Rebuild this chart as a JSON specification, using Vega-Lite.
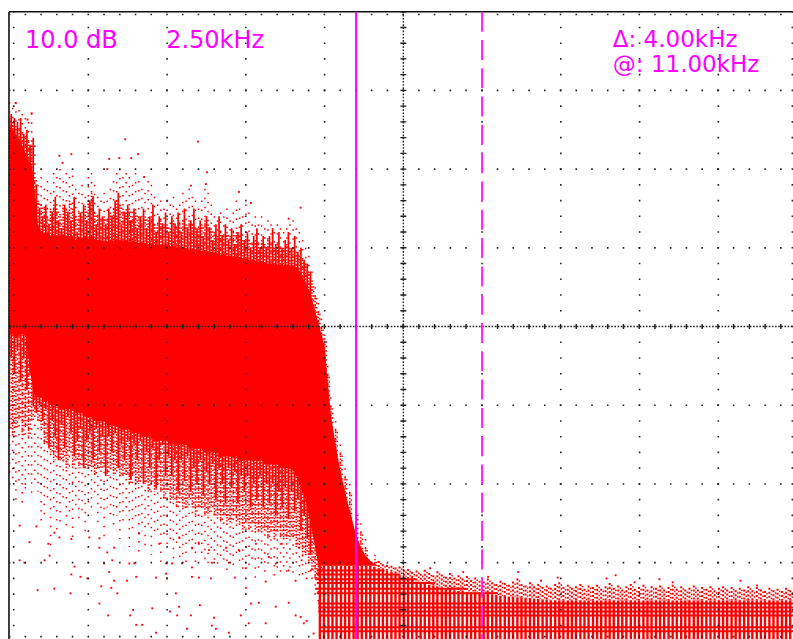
{"$schema":"https://vega.github.io/schema/vega-lite/v6.json","width":793,"height":639,"padding":0,"autosize":{"type":"fit","contains":"padding"},"background":"white","config":{"view":{"stroke":null}},
"datasets":{
"spectrum":[
{"f":0,"ot":-11.5,"mt":-13.5,"st":-14.5,"sb":-41,"mb":-53,"ob":-59},{"f":0.1,"ot":-12.2,"mt":-14,"st":-15,"sb":-41,"mb":-54,"ob":-60},{"f":0.2,"ot":-11.5,"mt":-14.5,"st":-15.5,"sb":-41.5,"mb":-53,"ob":-62},{"f":0.3,"ot":-12.5,"mt":-15,"st":-16.2,"sb":-41,"mb":-52,"ob":-60},{"f":0.4,"ot":-13,"mt":-15.5,"st":-17,"sb":-41,"mb":-54,"ob":-63},{"f":0.5,"ot":-13.5,"mt":-16,"st":-18,"sb":-41,"mb":-53,"ob":-61},{"f":0.6,"ot":-14,"mt":-16.5,"st":-19,"sb":-44,"mb":-54,"ob":-59},{"f":0.7,"ot":-12.9,"mt":-17,"st":-19.5,"sb":-47,"mb":-52,"ob":-62},{"f":0.8,"ot":-17,"mt":-21,"st":-23,"sb":-49,"mb":-51,"ob":-60},{"f":0.9,"ot":-22,"mt":-24,"st":-27,"sb":-49,"mb":-52,"ob":-61},
{"f":1,"ot":-21,"mt":-24.5,"st":-28,"sb":-49,"mb":-53,"ob":-65},{"f":1.1,"ot":-22.5,"mt":-25,"st":-28.2,"sb":-49.5,"mb":-55,"ob":-64},{"f":1.2,"ot":-21.5,"mt":-26,"st":-28,"sb":-49.5,"mb":-55,"ob":-62},{"f":1.3,"ot":-23,"mt":-25,"st":-28.5,"sb":-50,"mb":-56,"ob":-68},{"f":1.4,"ot":-20.5,"mt":-24.5,"st":-28.3,"sb":-50,"mb":-57,"ob":-63},{"f":1.5,"ot":-21,"mt":-25,"st":-28.4,"sb":-50,"mb":-56,"ob":-66},{"f":1.6,"ot":-20,"mt":-26,"st":-28.5,"sb":-50.5,"mb":-57,"ob":-65},{"f":1.7,"ot":-21.5,"mt":-24.5,"st":-28.2,"sb":-50.5,"mb":-57,"ob":-62},{"f":1.8,"ot":-20.5,"mt":-25,"st":-28.7,"sb":-50.5,"mb":-58,"ob":-66},{"f":1.9,"ot":-21,"mt":-24,"st":-28.5,"sb":-50.5,"mb":-56,"ob":-64},
{"f":2,"ot":-20.8,"mt":-25,"st":-28.6,"sb":-50.5,"mb":-58,"ob":-67},{"f":2.1,"ot":-22.5,"mt":-26,"st":-29,"sb":-51,"mb":-57,"ob":-63},{"f":2.2,"ot":-23,"mt":-25.5,"st":-28.7,"sb":-51,"mb":-58,"ob":-65},{"f":2.3,"ot":-22,"mt":-26,"st":-28.8,"sb":-51,"mb":-57,"ob":-64},{"f":2.4,"ot":-23.5,"mt":-25,"st":-28.5,"sb":-51.5,"mb":-58,"ob":-66},{"f":2.5,"ot":-21,"mt":-24,"st":-28.8,"sb":-51.5,"mb":-58,"ob":-63},{"f":2.6,"ot":-20.5,"mt":-23,"st":-28.6,"sb":-51.5,"mb":-58,"ob":-64},{"f":2.7,"ot":-22,"mt":-25.5,"st":-29,"sb":-52,"mb":-59,"ob":-62},{"f":2.8,"ot":-23.5,"mt":-26,"st":-29,"sb":-52,"mb":-58,"ob":-65},{"f":2.9,"ot":-24,"mt":-26.5,"st":-29,"sb":-52,"mb":-58,"ob":-64},
{"f":3,"ot":-23,"mt":-26,"st":-29.2,"sb":-52,"mb":-58,"ob":-67},{"f":3.1,"ot":-24,"mt":-26.5,"st":-29.2,"sb":-52.5,"mb":-59,"ob":-63},{"f":3.2,"ot":-22.5,"mt":-25.5,"st":-29,"sb":-52.5,"mb":-58,"ob":-64},{"f":3.3,"ot":-21.5,"mt":-25,"st":-29.1,"sb":-52.5,"mb":-59,"ob":-66},{"f":3.4,"ot":-20.5,"mt":-24,"st":-28.8,"sb":-52.5,"mb":-58,"ob":-64},{"f":3.5,"ot":-20,"mt":-24.5,"st":-29,"sb":-53,"mb":-59,"ob":-67},{"f":3.6,"ot":-21,"mt":-25,"st":-29.2,"sb":-53,"mb":-59,"ob":-65},{"f":3.7,"ot":-20.5,"mt":-25.5,"st":-29,"sb":-53,"mb":-59,"ob":-64},{"f":3.8,"ot":-21,"mt":-25,"st":-29.3,"sb":-53,"mb":-60,"ob":-68},{"f":3.9,"ot":-22,"mt":-26,"st":-29.2,"sb":-53.5,"mb":-59,"ob":-66},
{"f":4,"ot":-20.5,"mt":-25.5,"st":-29.2,"sb":-53.5,"mb":-60,"ob":-65},{"f":4.1,"ot":-21.5,"mt":-26,"st":-29.4,"sb":-53.5,"mb":-60,"ob":-69},{"f":4.2,"ot":-22.5,"mt":-26.5,"st":-29.3,"sb":-54,"mb":-59,"ob":-66},{"f":4.3,"ot":-23,"mt":-26,"st":-29.4,"sb":-54,"mb":-60,"ob":-68},{"f":4.4,"ot":-21.5,"mt":-26.5,"st":-29.5,"sb":-54,"mb":-61,"ob":-66},{"f":4.5,"ot":-22,"mt":-26,"st":-29.4,"sb":-54,"mb":-60,"ob":-69},{"f":4.6,"ot":-23.5,"mt":-27,"st":-29.6,"sb":-54.5,"mb":-61,"ob":-67},{"f":4.7,"ot":-24.5,"mt":-27,"st":-29.5,"sb":-54.5,"mb":-60,"ob":-66},{"f":4.8,"ot":-24,"mt":-26.5,"st":-29.6,"sb":-54.5,"mb":-61,"ob":-70},{"f":4.9,"ot":-25,"mt":-27,"st":-29.6,"sb":-54.5,"mb":-62,"ob":-67},
{"f":5,"ot":-24,"mt":-27,"st":-29.5,"sb":-54.5,"mb":-61,"ob":-68},{"f":5.1,"ot":-24.5,"mt":-27.5,"st":-29.8,"sb":-55,"mb":-62,"ob":-67},{"f":5.2,"ot":-23.5,"mt":-26.5,"st":-29.7,"sb":-55,"mb":-62,"ob":-70},{"f":5.3,"ot":-25,"mt":-27.5,"st":-30,"sb":-55,"mb":-63,"ob":-68},{"f":5.4,"ot":-24.5,"mt":-27,"st":-29.9,"sb":-55,"mb":-62,"ob":-70},{"f":5.5,"ot":-23,"mt":-26.5,"st":-30,"sb":-55,"mb":-63,"ob":-69},{"f":5.6,"ot":-24,"mt":-27,"st":-30,"sb":-55,"mb":-63,"ob":-70},{"f":5.7,"ot":-22.5,"mt":-26.5,"st":-30.2,"sb":-55.5,"mb":-62,"ob":-68},{"f":5.8,"ot":-23.5,"mt":-27,"st":-30.1,"sb":-55.5,"mb":-63,"ob":-69},{"f":5.9,"ot":-24,"mt":-27.5,"st":-30.3,"sb":-55.5,"mb":-64,"ob":-70},
{"f":6,"ot":-25,"mt":-27.5,"st":-30.2,"sb":-55.5,"mb":-63,"ob":-68},{"f":6.1,"ot":-24,"mt":-27,"st":-30.4,"sb":-55.5,"mb":-63,"ob":-69},{"f":6.2,"ot":-22.5,"mt":-26.5,"st":-30.3,"sb":-56,"mb":-64,"ob":-70},{"f":6.3,"ot":-23,"mt":-27,"st":-30.5,"sb":-56,"mb":-64,"ob":-71},{"f":6.4,"ot":-24.5,"mt":-27.5,"st":-30.5,"sb":-56,"mb":-63,"ob":-69},{"f":6.5,"ot":-26,"mt":-28,"st":-30.7,"sb":-56,"mb":-64,"ob":-70},{"f":6.6,"ot":-26.5,"mt":-28.5,"st":-30.7,"sb":-56,"mb":-64,"ob":-71},{"f":6.7,"ot":-25.5,"mt":-28,"st":-30.9,"sb":-56.5,"mb":-65,"ob":-70},{"f":6.8,"ot":-26,"mt":-28.5,"st":-30.8,"sb":-56.5,"mb":-64,"ob":-70},{"f":6.9,"ot":-25,"mt":-28,"st":-31,"sb":-56.5,"mb":-65,"ob":-71},
{"f":7,"ot":-26.5,"mt":-28.5,"st":-31,"sb":-56.5,"mb":-65,"ob":-70},{"f":7.1,"ot":-25.5,"mt":-28,"st":-31.2,"sb":-56.5,"mb":-64,"ob":-71},{"f":7.2,"ot":-24,"mt":-28,"st":-31.1,"sb":-56.5,"mb":-65,"ob":-69},{"f":7.3,"ot":-25,"mt":-28.5,"st":-31.3,"sb":-57,"mb":-65,"ob":-70},{"f":7.4,"ot":-26,"mt":-29,"st":-31.3,"sb":-57,"mb":-66,"ob":-71},{"f":7.5,"ot":-24.5,"mt":-28.5,"st":-31.4,"sb":-57,"mb":-65,"ob":-70},{"f":7.6,"ot":-25.5,"mt":-29,"st":-31.5,"sb":-57,"mb":-66,"ob":-71},{"f":7.7,"ot":-27,"mt":-29.5,"st":-31.6,"sb":-57,"mb":-65,"ob":-70},{"f":7.8,"ot":-26,"mt":-29,"st":-31.6,"sb":-57,"mb":-66,"ob":-72},{"f":7.9,"ot":-27,"mt":-29.5,"st":-31.8,"sb":-57,"mb":-66,"ob":-71},
{"f":8,"ot":-26,"mt":-29,"st":-31.8,"sb":-57,"mb":-66,"ob":-70},{"f":8.1,"ot":-27.5,"mt":-29.5,"st":-31.9,"sb":-57.5,"mb":-66,"ob":-72},{"f":8.2,"ot":-26.5,"mt":-29,"st":-32,"sb":-57.5,"mb":-67,"ob":-71},{"f":8.3,"ot":-27,"mt":-29.5,"st":-32,"sb":-57.5,"mb":-66,"ob":-70},{"f":8.4,"ot":-28,"mt":-30,"st":-32.1,"sb":-57.5,"mb":-67,"ob":-72},{"f":8.5,"ot":-27,"mt":-29.5,"st":-32.1,"sb":-57.5,"mb":-66,"ob":-71},{"f":8.6,"ot":-27.5,"mt":-30,"st":-32.2,"sb":-58,"mb":-67,"ob":-72},{"f":8.7,"ot":-28,"mt":-30,"st":-32.2,"sb":-58,"mb":-67,"ob":-71},{"f":8.8,"ot":-27.5,"mt":-29.5,"st":-32.2,"sb":-58,"mb":-67,"ob":-72},{"f":8.9,"ot":-27,"mt":-30,"st":-32.2,"sb":-58,"mb":-67,"ob":-71},
{"f":9,"ot":-26.5,"mt":-30,"st":-32.3,"sb":-58.3,"mb":-67,"ob":-72},{"f":9.1,"ot":-27.5,"mt":-30.5,"st":-32.5,"sb":-59,"mb":-68,"ob":-71},{"f":9.2,"ot":-28,"mt":-31,"st":-33,"sb":-60,"mb":-68,"ob":-72},{"f":9.3,"ot":-29,"mt":-31.5,"st":-33.8,"sb":-61,"mb":-69,"ob":-72},{"f":9.4,"ot":-30,"mt":-32,"st":-34.5,"sb":-62,"mb":-69,"ob":-72},{"f":9.5,"ot":-31,"mt":-33,"st":-35.3,"sb":-64,"mb":-70,"ob":-72},{"f":9.6,"ot":-33,"mt":-34.5,"st":-36.5,"sb":-66,"mb":-71,"ob":-73},{"f":9.7,"ot":-35,"mt":-36,"st":-38,"sb":-68,"mb":-72,"ob":-75},{"f":9.8,"ot":-37,"mt":-38,"st":-39.5,"sb":-70.4,"mb":-72,"ob":-75},{"f":9.9,"ot":-39,"mt":-40,"st":-41,"sb":-70.4,"mb":-71,"ob":-73},
{"f":10,"ot":-41,"mt":-41.5,"st":-42.5,"sb":-70.4,"mb":-70.4,"ob":-70.4},{"f":10.1,"ot":-45,"mt":-46,"st":-47,"sb":-70.4,"mb":-70.4,"ob":-70.4},{"f":10.2,"ot":-49,"mt":-50,"st":-51.3,"sb":-70.4,"mb":-70.4,"ob":-70.4},{"f":10.35,"ot":-52,"mt":-53,"st":-55,"sb":-70.4,"mb":-70.4,"ob":-70.4},{"f":10.5,"ot":-55,"mt":-56,"st":-58.3,"sb":-70.4,"mb":-70.4,"ob":-70.4},{"f":10.65,"ot":-58,"mt":-59,"st":-61,"sb":-70.4,"mb":-70.4,"ob":-70.4},{"f":10.8,"ot":-60,"mt":-61,"st":-63.4,"sb":-70.4,"mb":-70.4,"ob":-70.4},{"f":11,"ot":-62,"mt":-63.5,"st":-66.5,"sb":-70.4,"mb":-70.4,"ob":-70.4},{"f":11.15,"ot":-65,"mt":-66,"st":-68,"sb":-70.4,"mb":-70.4,"ob":-70.4},{"f":11.3,"ot":-67,"mt":-68,"st":-69.1,"sb":-70.4,"mb":-70.4,"ob":-70.4},{"f":11.6,"ot":-69,"mt":-69.5,"st":-70.4,"sb":-70.4,"mb":-70.4,"ob":-70.4}
],
"spikes":[
{"f":0.05,"t":-13,"b":-44},{"f":0.15,"t":-13.5,"b":-46},{"f":0.25,"t":-14,"b":-43},{"f":0.35,"t":-13.5,"b":-47},{"f":0.45,"t":-15.5,"b":-44},{"f":0.55,"t":-15,"b":-48},{"f":0.65,"t":-17,"b":-46},{"f":0.75,"t":-16,"b":-50},{"f":0.85,"t":-22,"b":-51},{"f":0.95,"t":-25,"b":-50},
{"f":1.05,"t":-26,"b":-52},{"f":1.15,"t":-24.5,"b":-50.5},{"f":1.25,"t":-27,"b":-55.5},{"f":1.35,"t":-25.5,"b":-52},{"f":1.45,"t":-23.5,"b":-54},{"f":1.55,"t":-26.5,"b":-57},{"f":1.65,"t":-27.5,"b":-52.5},{"f":1.75,"t":-24.5,"b":-55.5},{"f":1.85,"t":-25.5,"b":-51.5},{"f":1.95,"t":-26.5,"b":-53.5},{"f":2.05,"t":-23.5,"b":-56.5},{"f":2.15,"t":-28,"b":-54.5},{"f":2.25,"t":-25.5,"b":-53},{"f":2.35,"t":-24.5,"b":-58},{"f":2.45,"t":-26.5,"b":-54.5},{"f":2.55,"t":-24,"b":-53.5},{"f":2.65,"t":-23.5,"b":-57},{"f":2.75,"t":-27,"b":-53},{"f":2.85,"t":-25,"b":-56},{"f":2.95,"t":-26,"b":-54},{"f":3.05,"t":-27,"b":-59},{"f":3.15,"t":-25,"b":-54},{"f":3.25,"t":-26,"b":-56},{"f":3.35,"t":-24,"b":-53.5},{"f":3.45,"t":-23,"b":-58},{"f":3.55,"t":-27,"b":-55},{"f":3.65,"t":-25.5,"b":-57},{"f":3.75,"t":-24.5,"b":-54.5},{"f":3.85,"t":-26.5,"b":-59.5},{"f":3.95,"t":-25,"b":-55},{"f":4.05,"t":-27.5,"b":-57},{"f":4.15,"t":-26,"b":-54.5},{"f":4.25,"t":-25,"b":-60},{"f":4.35,"t":-27.5,"b":-56},{"f":4.45,"t":-26,"b":-58},{"f":4.55,"t":-24.5,"b":-55.5},{"f":4.65,"t":-28,"b":-60.5},{"f":4.75,"t":-26,"b":-57},{"f":4.85,"t":-27,"b":-55},{"f":4.95,"t":-25.5,"b":-59},{"f":5.05,"t":-28,"b":-56.5},{"f":5.15,"t":-26,"b":-59},{"f":5.25,"t":-27,"b":-57},{"f":5.35,"t":-25.5,"b":-61},{"f":5.45,"t":-28,"b":-57},{"f":5.55,"t":-25,"b":-59.5},{"f":5.65,"t":-27.5,"b":-56.5},{"f":5.75,"t":-26.5,"b":-61},{"f":5.85,"t":-25,"b":-58},{"f":5.95,"t":-27.5,"b":-60},{"f":6.05,"t":-26.5,"b":-57},{"f":6.15,"t":-28.5,"b":-61.5},{"f":6.25,"t":-26,"b":-58.5},{"f":6.35,"t":-27.5,"b":-60},{"f":6.45,"t":-29,"b":-57.5},{"f":6.55,"t":-27,"b":-62},{"f":6.65,"t":-26,"b":-58},{"f":6.75,"t":-28.5,"b":-60},{"f":6.85,"t":-27,"b":-62.5},{"f":6.95,"t":-29,"b":-58},{"f":7.05,"t":-27.5,"b":-60.5},{"f":7.15,"t":-29.5,"b":-58.5},{"f":7.25,"t":-28,"b":-62.5},{"f":7.35,"t":-27,"b":-59},{"f":7.45,"t":-29,"b":-61},{"f":7.55,"t":-28,"b":-59},{"f":7.65,"t":-30,"b":-63},{"f":7.75,"t":-28.5,"b":-60},{"f":7.85,"t":-27.5,"b":-62},{"f":7.95,"t":-30,"b":-59},{"f":8.05,"t":-28.5,"b":-63},{"f":8.15,"t":-30,"b":-60},{"f":8.25,"t":-28.5,"b":-62.5},{"f":8.35,"t":-27.5,"b":-60},{"f":8.45,"t":-29.5,"b":-64},{"f":8.55,"t":-28,"b":-61},{"f":8.65,"t":-30,"b":-63},{"f":8.75,"t":-29,"b":-60.5},{"f":8.85,"t":-28,"b":-64.5},{"f":8.95,"t":-30,"b":-61},{"f":9.05,"t":-28.5,"b":-63.5},{"f":9.15,"t":-30.5,"b":-62},{"f":9.25,"t":-30,"b":-66},{"f":9.35,"t":-31.5,"b":-64},{"f":9.45,"t":-32,"b":-67},{"f":9.55,"t":-33,"b":-69}
],
"comb":[
{"f":9.85,"t":-70.4,"m":-70.4},{"f":9.98,"t":-70.4,"m":-70.4},{"f":10.12,"t":-70.4,"m":-70.4},{"f":10.25,"t":-70.4,"m":-70.4},{"f":10.38,"t":-70.4,"m":-70.4},{"f":10.52,"t":-70.4,"m":-70.4},{"f":10.65,"t":-70.4,"m":-70.4},{"f":10.78,"t":-70.4,"m":-70.4},{"f":10.92,"t":-70.4,"m":-70.4},{"f":11.05,"t":-70.4,"m":-70.4},{"f":11.18,"t":-70.4,"m":-70.4},{"f":11.32,"t":-70.4,"m":-70.4},{"f":11.45,"t":-70.4,"m":-70.4},{"f":11.58,"t":-70.5,"m":-70},{"f":11.72,"t":-70.7,"m":-69.8},{"f":11.85,"t":-70.8,"m":-70.2},{"f":11.98,"t":-71,"m":-70.3},{"f":12.12,"t":-71.2,"m":-70.4},{"f":12.25,"t":-71.4,"m":-70.6},{"f":12.38,"t":-71.6,"m":-70.5},{"f":12.52,"t":-71.8,"m":-70.9},{"f":12.65,"t":-72,"m":-70.8},{"f":12.78,"t":-72.2,"m":-71.2},{"f":12.92,"t":-72.4,"m":-71},{"f":13.05,"t":-72.6,"m":-71.4},{"f":13.18,"t":-72.7,"m":-70.9},{"f":13.32,"t":-72.8,"m":-71.3},{"f":13.45,"t":-72.9,"m":-71.6},{"f":13.58,"t":-73,"m":-71.1},{"f":13.72,"t":-73.2,"m":-71.5},{"f":13.85,"t":-73.3,"m":-71.8},{"f":13.98,"t":-73.4,"m":-71.3},{"f":14.12,"t":-73.5,"m":-71.9},{"f":14.25,"t":-73.6,"m":-71.6},{"f":14.38,"t":-73.6,"m":-72},{"f":14.52,"t":-73.7,"m":-71.7},{"f":14.65,"t":-73.8,"m":-72.2},{"f":14.78,"t":-73.8,"m":-71.9},{"f":14.92,"t":-73.9,"m":-72.3},{"f":15.05,"t":-74,"m":-72.4},{"f":15.18,"t":-74,"m":-72},{"f":15.32,"t":-74.1,"m":-72.5},{"f":15.45,"t":-74.1,"m":-72.7},{"f":15.58,"t":-74.2,"m":-72.3},{"f":15.72,"t":-74.2,"m":-72.6},{"f":15.85,"t":-74.3,"m":-72.8},{"f":15.98,"t":-74.3,"m":-72.4},{"f":16.12,"t":-74.4,"m":-72},{"f":16.25,"t":-74.4,"m":-72.7},{"f":16.38,"t":-74.5,"m":-72.9},{"f":16.52,"t":-74.5,"m":-72.5},{"f":16.65,"t":-74.6,"m":-73},{"f":16.78,"t":-74.6,"m":-72.7},{"f":16.92,"t":-74.7,"m":-73.1},{"f":17.05,"t":-74.7,"m":-72.9},{"f":17.18,"t":-74.8,"m":-73.2},{"f":17.32,"t":-74.8,"m":-72.7},{"f":17.45,"t":-74.8,"m":-72.5},{"f":17.58,"t":-74.8,"m":-73.1},{"f":17.72,"t":-74.8,"m":-72.8},{"f":17.85,"t":-74.8,"m":-73.2},{"f":17.98,"t":-74.8,"m":-73},{"f":18.12,"t":-74.8,"m":-72.7},{"f":18.25,"t":-74.8,"m":-73.3},{"f":18.38,"t":-74.8,"m":-72.9},{"f":18.52,"t":-74.8,"m":-73.1},{"f":18.65,"t":-74.8,"m":-72.8},{"f":18.78,"t":-74.8,"m":-73.3},{"f":18.92,"t":-74.8,"m":-73},{"f":19.05,"t":-74.8,"m":-72.6},{"f":19.18,"t":-74.8,"m":-73.2},{"f":19.32,"t":-74.8,"m":-72.9},{"f":19.45,"t":-74.8,"m":-73.4},{"f":19.58,"t":-74.8,"m":-73},{"f":19.72,"t":-74.8,"m":-72.7},{"f":19.85,"t":-74.8,"m":-73.3},{"f":19.98,"t":-74.8,"m":-73.1},{"f":20.12,"t":-74.8,"m":-72.8},{"f":20.25,"t":-74.8,"m":-73.4},{"f":20.38,"t":-74.8,"m":-73},{"f":20.52,"t":-74.8,"m":-73.2},{"f":20.65,"t":-74.8,"m":-72.9},{"f":20.78,"t":-74.8,"m":-73.4},{"f":20.92,"t":-74.8,"m":-73.1},{"f":21.05,"t":-74.8,"m":-72.8},{"f":21.18,"t":-74.8,"m":-73.3},{"f":21.32,"t":-74.8,"m":-73},{"f":21.45,"t":-74.8,"m":-73.4},{"f":21.58,"t":-74.8,"m":-73.2},{"f":21.72,"t":-74.8,"m":-72.9},{"f":21.85,"t":-74.8,"m":-73.4},{"f":21.98,"t":-74.8,"m":-73.1},{"f":22.12,"t":-74.8,"m":-73.3},{"f":22.25,"t":-74.8,"m":-73},{"f":22.38,"t":-74.8,"m":-73.5},{"f":22.52,"t":-74.8,"m":-73.2},{"f":22.65,"t":-74.8,"m":-73},{"f":22.78,"t":-74.8,"m":-73.4},{"f":22.92,"t":-74.8,"m":-73.1},{"f":23.05,"t":-74.8,"m":-73.5},{"f":23.18,"t":-74.8,"m":-73.2},{"f":23.32,"t":-74.8,"m":-73.4},{"f":23.45,"t":-74.8,"m":-73},{"f":23.58,"t":-74.8,"m":-73.5},{"f":23.72,"t":-74.8,"m":-73.1},{"f":23.85,"t":-74.8,"m":-73.4},{"f":23.98,"t":-74.8,"m":-73.6},{"f":24.12,"t":-74.8,"m":-73.2},{"f":24.25,"t":-74.8,"m":-73.5},{"f":24.38,"t":-74.8,"m":-73.3},{"f":24.52,"t":-74.8,"m":-73.6},{"f":24.65,"t":-74.8,"m":-73.2},{"f":24.78,"t":-74.8,"m":-73.5}
],
"bands":[
{"f":9.75,"f2":11.9,"l":-71},{"f":9.75,"f2":12.4,"l":-71.5},{"f":9.7,"f2":12.9,"l":-72.1},{"f":9.75,"f2":13.5,"l":-72.6},{"f":9.7,"f2":14.5,"l":-73.3},{"f":9.75,"f2":15.5,"l":-73.9},{"f":9.8,"f2":25,"l":-75.2},{"f":9.8,"f2":25,"l":-75.7},{"f":9.8,"f2":25,"l":-76.2},{"f":9.85,"f2":25,"l":-76.7},{"f":9.85,"f2":25,"l":-78.2},{"f":9.85,"f2":25,"l":-78.7}
],
"scatter":[
{"f":3.67,"l":-16.2},{"f":5.98,"l":-16.5},{"f":0.19,"l":-11.6},{"f":0.7,"l":-12.9},{"f":0.57,"l":-13.7},{"f":4.08,"l":-18.1},{"f":3.86,"l":-18.6},{"f":3.48,"l":-18.6},{"f":3.16,"l":-18.7},{"f":1.58,"l":-18.3},{"f":1.96,"l":-18.1},{"f":1.68,"l":-19.2},{"f":3.1,"l":-20},{"f":6.27,"l":-20.4},{"f":7.28,"l":-22.9},{"f":5.76,"l":-22.1},{"f":6.23,"l":-21.9},{"f":4.27,"l":-21},{"f":7.66,"l":-24.3},{"f":9.24,"l":-24.9},{"f":8.86,"l":-26.3},
{"f":0.32,"l":-65.3},{"f":0.85,"l":-65.4},{"f":0.63,"l":-67.4},{"f":1.23,"l":-67.6},{"f":1.42,"l":-66.2},{"f":1.58,"l":-66.8},{"f":1.96,"l":-67},{"f":2.53,"l":-66.8},{"f":2.85,"l":-66.9},{"f":2.85,"l":-68.1},{"f":3.1,"l":-68.7},{"f":3.32,"l":-68.1},{"f":1.27,"l":-69.1},{"f":1.11,"l":-69.7},{"f":0.32,"l":-69.7},{"f":0.47,"l":-70},{"f":2.06,"l":-70.5},{"f":3,"l":-70.1},{"f":3.26,"l":-69.7},{"f":3.8,"l":-70.1},{"f":3.96,"l":-70.1},{"f":1.96,"l":-71.5},{"f":2.25,"l":-71.8},{"f":2.47,"l":-72},{"f":3.16,"l":-71.2},{"f":3.32,"l":-72.3},{"f":0.89,"l":-73.5},{"f":1.42,"l":-73.3},{"f":1.93,"l":-73.9},{"f":2.91,"l":-73},{"f":3.23,"l":-73.2},{"f":3.42,"l":-73.9},{"f":3.73,"l":-72.3},{"f":4.02,"l":-71.8},{"f":4.65,"l":-71.9},{"f":5,"l":-72},{"f":4.97,"l":-71.4},{"f":5.28,"l":-73.9},{"f":5.79,"l":-71.8},{"f":6.01,"l":-71.9},{"f":6.39,"l":-72},{"f":7.15,"l":-71.9},{"f":7.5,"l":-73.2},{"f":8.13,"l":-72.4},{"f":9.08,"l":-72.3},{"f":2.85,"l":-75.2},{"f":3.13,"l":-76.7},{"f":3.92,"l":-76},{"f":4.53,"l":-75.8},{"f":3.83,"l":-76.7},{"f":4.02,"l":-77.9},{"f":4.21,"l":-77.9},{"f":5.09,"l":-76.2},{"f":5.32,"l":-76.7},{"f":5.38,"l":-75.6},{"f":5.76,"l":-76.7},{"f":5.63,"l":-78.4},{"f":6.04,"l":-75.4},{"f":6.49,"l":-77},{"f":6.42,"l":-78},{"f":6.55,"l":-78.4},{"f":7.34,"l":-76.7},{"f":7.59,"l":-77.7},{"f":8.13,"l":-77.7},{"f":7.66,"l":-75.2},{"f":7.91,"l":-75.1},{"f":8.45,"l":-75.6},{"f":8.86,"l":-75.1},{"f":9.08,"l":-76.7},{"f":9.24,"l":-76.9},{"f":9.43,"l":-77.4},{"f":9.34,"l":-77.7},{"f":4.65,"l":-78.9},{"f":6.96,"l":-78.9},{"f":9.65,"l":-79},{"f":4.97,"l":-70.1},{"f":5.16,"l":-70.1},{"f":5.47,"l":-70.1},{"f":5.79,"l":-70.6},{"f":6.42,"l":-70},{"f":6.96,"l":-70},{"f":7.5,"l":-70.7},{"f":8.23,"l":-69.3},{"f":8.45,"l":-70.1},{"f":8.86,"l":-71},{"f":9.27,"l":-69.7},{"f":9.43,"l":-72},{"f":9.56,"l":-71},{"f":6.01,"l":-67.6},{"f":6.33,"l":-68.4},{"f":6.87,"l":-68.1},{"f":7.28,"l":-68.4},{"f":7.82,"l":-67.6},{"f":8.64,"l":-67.6},{"f":9.18,"l":-68.1},{"f":4.11,"l":-66.3},{"f":4.75,"l":-67.6},{"f":5.38,"l":-66.8},{"f":5.79,"l":-68.1},
{"f":16.87,"l":-72.3},{"f":17.4,"l":-71.9},{"f":18.95,"l":-72},{"f":19.24,"l":-71.6},{"f":19.84,"l":-72.5},{"f":20.63,"l":-72.1},{"f":21.05,"l":-72.5},{"f":23.2,"l":-72.3},{"f":23.73,"l":-72.9},{"f":13.35,"l":-70.7},{"f":16.14,"l":-71.2},{"f":15.19,"l":-71.8},{"f":14.4,"l":-71.2}
],
"vgrid":[{"f":2.5,"l":0,"l2":-80},{"f":5,"l":0,"l2":-80},{"f":7.5,"l":0,"l2":-80},{"f":10,"l":0,"l2":-80},{"f":12.5,"l":0,"l2":-80},{"f":15,"l":0,"l2":-80},{"f":17.5,"l":0,"l2":-80},{"f":20,"l":0,"l2":-80},{"f":22.5,"l":0,"l2":-80},{"f":24.85,"l":0,"l2":-80},{"f":0.13,"l":0,"l2":-80}],
"hgrid":[{"f":0,"f2":25,"l":-0.35},{"f":0,"f2":25,"l":-10},{"f":0,"f2":25,"l":-20},{"f":0,"f2":25,"l":-30},{"f":0,"f2":25,"l":-40},{"f":0,"f2":25,"l":-50},{"f":0,"f2":25,"l":-60},{"f":0,"f2":25,"l":-70},{"f":0,"f2":25,"l":-79.4}],
"vcentre":[{"f":12.5,"l":0,"l2":-80}],
"hcentre":[{"f":0,"f2":25,"l":-40}],
"markers":[{"f":11,"l":0,"l2":-80,"kind":"solid"},{"f":15,"l":0,"l2":-80,"kind":"dashed"}],
"labels":[{"f":0.49,"l":-4.6,"text":"10.0 dB"},{"f":4.97,"l":-4.6,"text":"2.50kHz"},{"f":19.15,"l":-4.5,"text":"Δ: 4.00kHz"},{"f":19.15,"l":-7.66,"text":"@: 11.00kHz"}],
"frameTop":[{"f":-0.02,"f2":25,"l":0}],
"frameLeft":[{"f":-0.02,"l":0,"l2":-80}]
},
"encoding":{"x":{"field":"f","type":"quantitative","axis":null,"scale":{"domain":[-0.305,24.87],"nice":false,"zero":false}}},
"layer":[
{"data":{"name":"spectrum"},"mark":{"type":"rule","color":"#ff0000","strokeWidth":1.5,"strokeDash":[1.5,7.5],"clip":true},"encoding":{"y":{"field":"ot","type":"quantitative","axis":null,"scale":{"domain":[-79.7,1.487],"nice":false,"zero":false}},"y2":{"field":"ob"}}},
{"data":{"name":"spectrum"},"mark":{"type":"rule","color":"#ff0000","strokeWidth":1.5,"strokeDash":[1.5,1.5],"clip":true},"encoding":{"y":{"field":"mt","type":"quantitative","axis":null,"scale":{"domain":[-79.7,1.487],"nice":false,"zero":false}},"y2":{"field":"mb"}}},
{"data":{"name":"spectrum"},"mark":{"type":"rule","color":"#ff0000","strokeWidth":1.5,"strokeDash":[1.5,3],"strokeDashOffset":1.5,"xOffset":1.6,"clip":true},"encoding":{"y":{"field":"mt","type":"quantitative","axis":null,"scale":{"domain":[-79.7,1.487],"nice":false,"zero":false}},"y2":{"field":"mb"}}},
{"data":{"name":"comb"},"mark":{"type":"rule","color":"#ff0000","strokeWidth":2.4,"clip":true},"encoding":{"y":{"field":"t","type":"quantitative","axis":null,"scale":{"domain":[-79.7,1.487],"nice":false,"zero":false}},"y2":{"datum":-80}}},
{"data":{"name":"comb"},"mark":{"type":"rule","color":"#ff0000","strokeWidth":2,"strokeDash":[2,2],"clip":true},"encoding":{"y":{"field":"m","type":"quantitative","axis":null,"scale":{"domain":[-79.7,1.487],"nice":false,"zero":false}},"y2":{"field":"t"}}},
{"data":{"name":"comb"},"mark":{"type":"rule","color":"#ff0000","strokeWidth":1.5,"strokeDash":[1.5,2.5],"strokeDashOffset":2,"xOffset":2.1,"clip":true},"encoding":{"y":{"field":"m","type":"quantitative","axis":null,"scale":{"domain":[-79.7,1.487],"nice":false,"zero":false}},"y2":{"field":"t"}}},
{"data":{"name":"bands"},"mark":{"type":"rule","color":"#ff0000","strokeWidth":2,"clip":true},"encoding":{"x2":{"field":"f2"},"y":{"field":"l","type":"quantitative","axis":null,"scale":{"domain":[-79.7,1.487],"nice":false,"zero":false}}}},
{"data":{"name":"spectrum"},"mark":{"type":"area","color":"#ff0000","clip":true},"encoding":{"y":{"field":"st","type":"quantitative","axis":null,"scale":{"domain":[-79.7,1.487],"nice":false,"zero":false}},"y2":{"field":"sb"}}},
{"data":{"name":"spikes"},"mark":{"type":"rule","color":"#ff0000","strokeWidth":1.7,"clip":true},"encoding":{"y":{"field":"t","type":"quantitative","axis":null,"scale":{"domain":[-79.7,1.487],"nice":false,"zero":false}},"y2":{"field":"b"}}},
{"data":{"name":"scatter"},"mark":{"type":"square","color":"#ff0000","size":3.5,"opacity":1,"clip":true},"encoding":{"y":{"field":"l","type":"quantitative","axis":null,"scale":{"domain":[-79.7,1.487],"nice":false,"zero":false}}}},
{"data":{"name":"vgrid"},"mark":{"type":"rule","color":"#222222","strokeWidth":1.6,"strokeDash":[1.6,14.14],"strokeDashOffset":0.8,"clip":true},"encoding":{"y":{"field":"l","type":"quantitative","axis":null,"scale":{"domain":[-79.7,1.487],"nice":false,"zero":false}},"y2":{"field":"l2"}}},
{"data":{"name":"hgrid"},"mark":{"type":"rule","color":"#222222","strokeWidth":1.6,"strokeDash":[1.6,14.14],"strokeDashOffset":0.8,"clip":true},"encoding":{"x2":{"field":"f2"},"y":{"field":"l","type":"quantitative","axis":null,"scale":{"domain":[-79.7,1.487],"nice":false,"zero":false}}}},
{"data":{"name":"vcentre"},"mark":{"type":"rule","color":"#222222","strokeWidth":1.4,"strokeDash":[1.6,1.55],"clip":true},"encoding":{"y":{"field":"l","type":"quantitative","axis":null,"scale":{"domain":[-79.7,1.487],"nice":false,"zero":false}},"y2":{"field":"l2"}}},
{"data":{"name":"vcentre"},"mark":{"type":"rule","color":"#222222","strokeWidth":6,"strokeDash":[1.4,14.34],"strokeDashOffset":0.7,"clip":true},"encoding":{"y":{"field":"l","type":"quantitative","axis":null,"scale":{"domain":[-79.7,1.487],"nice":false,"zero":false}},"y2":{"field":"l2"}}},
{"data":{"name":"hcentre"},"mark":{"type":"rule","color":"#222222","strokeWidth":1.4,"strokeDash":[1.6,1.55],"clip":true},"encoding":{"x2":{"field":"f2"},"y":{"field":"l","type":"quantitative","axis":null,"scale":{"domain":[-79.7,1.487],"nice":false,"zero":false}}}},
{"data":{"name":"hcentre"},"mark":{"type":"rule","color":"#222222","strokeWidth":5,"strokeDash":[1.4,14.34],"strokeDashOffset":0.7,"clip":true},"encoding":{"x2":{"field":"f2"},"y":{"field":"l","type":"quantitative","axis":null,"scale":{"domain":[-79.7,1.487],"nice":false,"zero":false}}}},
{"data":{"name":"frameTop"},"mark":{"type":"rule","color":"#111111","strokeWidth":1.6,"clip":true},"encoding":{"x2":{"field":"f2"},"y":{"field":"l","type":"quantitative","axis":null,"scale":{"domain":[-79.7,1.487],"nice":false,"zero":false}}}},
{"data":{"name":"frameLeft"},"mark":{"type":"rule","color":"#111111","strokeWidth":1.6,"clip":true},"encoding":{"y":{"field":"l","type":"quantitative","axis":null,"scale":{"domain":[-79.7,1.487],"nice":false,"zero":false}},"y2":{"field":"l2"}}},
{"data":{"name":"markers"},"transform":[{"filter":"datum.kind==='solid'"}],"mark":{"type":"rule","color":"#ff00ff","strokeWidth":2,"clip":true},"encoding":{"y":{"field":"l","type":"quantitative","axis":null,"scale":{"domain":[-79.7,1.487],"nice":false,"zero":false}},"y2":{"field":"l2"}}},
{"data":{"name":"markers"},"transform":[{"filter":"datum.kind==='dashed'"}],"mark":{"type":"rule","color":"#ff22ff","strokeWidth":2,"strokeDash":[20,8.3],"clip":true},"encoding":{"y":{"field":"l","type":"quantitative","axis":null,"scale":{"domain":[-79.7,1.487],"nice":false,"zero":false}},"y2":{"field":"l2"}}},
{"data":{"name":"labels"},"transform":[{"filter":"datum.f<10"}],"mark":{"type":"text","color":"#ff00ff","font":"DejaVu Sans","fontSize":24,"align":"left","baseline":"alphabetic"},"encoding":{"y":{"field":"l","type":"quantitative","axis":null,"scale":{"domain":[-79.7,1.487],"nice":false,"zero":false}},"text":{"field":"text","type":"nominal"}}},
{"data":{"name":"labels"},"transform":[{"filter":"datum.f>10"}],"mark":{"type":"text","color":"#ff00ff","font":"DejaVu Sans","fontSize":23,"align":"left","baseline":"alphabetic"},"encoding":{"y":{"field":"l","type":"quantitative","axis":null,"scale":{"domain":[-79.7,1.487],"nice":false,"zero":false}},"text":{"field":"text","type":"nominal"}}}
]}
